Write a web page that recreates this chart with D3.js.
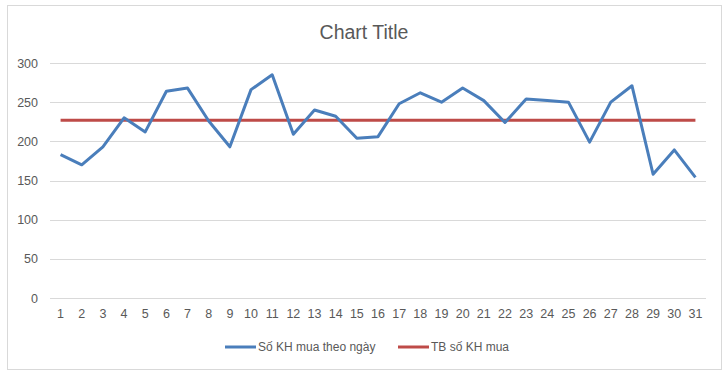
<!DOCTYPE html>
<html>
<head>
<meta charset="utf-8">
<script src="https://cdn.jsdelivr.net/npm/d3@7"></script>
<style>
  body { margin: 0; background: #fff; }
  text { font-family: "Liberation Sans", "Noto Sans", sans-serif; fill: #595959; }
</style>
</head>
<body>
<div id="wrapper"></div>
<script>
const days = d3.range(1, 32).map(String)
const customers = [183, 170, 193, 230, 212, 264, 268, 226, 193, 266,
                   285, 209, 240, 232, 204, 206, 248, 262, 250, 268,
                   252, 224, 254, 252, 250, 199, 250, 271, 158, 189, 154]
const avgCustomers = 227
const yTicks = [0, 50, 100, 150, 200, 250, 300]
const seriesNames = ["Số KH mua theo ngày", "TB số KH mua"]
const colors = ["#4a7ebb", "#be4b48"]

let dimensions = {
  width: 727,
  height: 375,
  margin: { top: 63, right: 21, bottom: 77, left: 50 },
}
dimensions.boundedWidth = dimensions.width - dimensions.margin.left - dimensions.margin.right
dimensions.boundedHeight = dimensions.height - dimensions.margin.top - dimensions.margin.bottom

const wrapper = d3.select("#wrapper")
  .append("svg")
  .attr("width", dimensions.width)
  .attr("height", dimensions.height)

// chart area border
wrapper.append("rect")
  .attr("x", 7.5).attr("y", 5.5)
  .attr("width", 714).attr("height", 364)
  .attr("fill", "#fff")
  .attr("stroke", "#d9d9d9")

wrapper.append("text")
  .attr("x", 364)
  .attr("y", 39)
  .attr("text-anchor", "middle")
  .style("font-size", "19.5px")
  .text("Chart Title")

const bounds = wrapper.append("g")
  .attr("transform", `translate(${dimensions.margin.left},${dimensions.margin.top})`)

const xScale = d3.scaleBand()
  .domain(days)
  .range([0, dimensions.boundedWidth])

const yScale = d3.scaleLinear()
  .domain([0, 300])
  .range([dimensions.boundedHeight, 0])

// gridlines
bounds.append("g")
  .selectAll("line")
  .data(yTicks)
  .join("line")
  .attr("x1", 0)
  .attr("x2", dimensions.boundedWidth)
  .attr("y1", d => Math.round(yScale(d)) + 0.5)
  .attr("y2", d => Math.round(yScale(d)) + 0.5)
  .attr("stroke", "#d9d9d9")

const yAxis = bounds.append("g")
  .call(d3.axisLeft(yScale).tickValues(yTicks).tickSize(0).tickPadding(12))
yAxis.select(".domain").remove()
yAxis.selectAll("text").style("font-size", "12.5px").attr("fill", "#595959")

const xAxis = bounds.append("g")
  .attr("transform", `translate(0,${dimensions.boundedHeight})`)
  .call(d3.axisBottom(xScale).tickSize(0).tickPadding(11))
xAxis.select(".domain").remove()
xAxis.selectAll("text").style("font-size", "12.5px").attr("fill", "#595959")

const xPos = d => xScale(d) + xScale.bandwidth() / 2

const lineGenerator = d3.line()
  .x((d, i) => xPos(days[i]))
  .y(d => yScale(d))

bounds.append("path")
  .attr("d", lineGenerator(days.map(() => avgCustomers)))
  .attr("fill", "none")
  .attr("stroke", colors[1])
  .attr("stroke-width", 3)

bounds.append("path")
  .attr("d", lineGenerator(customers))
  .attr("fill", "none")
  .attr("stroke", colors[0])
  .attr("stroke-width", 3)
  .attr("stroke-linejoin", "round")

// legend
const legendX = [225, 398]
const legend = wrapper.append("g")
  .selectAll("g")
  .data(seriesNames)
  .join("g")
  .attr("transform", (d, i) => `translate(${legendX[i]},347)`)
legend.append("line")
  .attr("x1", 0).attr("x2", 31)
  .attr("stroke", (d, i) => colors[i])
  .attr("stroke-width", 3)
legend.append("text")
  .attr("x", 33)
  .attr("y", 4)
  .style("font-size", "12px")
  .text(d => d)
</script>
</body>
</html>
